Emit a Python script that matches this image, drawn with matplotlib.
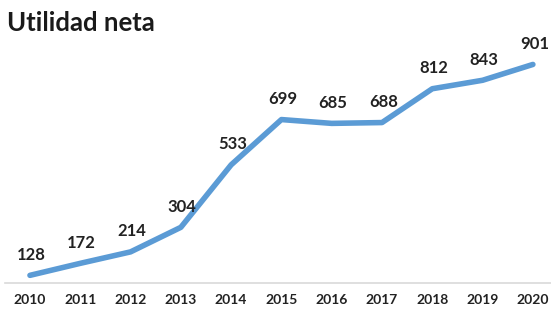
import matplotlib
matplotlib.use("Agg")
import matplotlib.pyplot as plt

years = ["2010", "2011", "2012", "2013", "2014", "2015", "2016", "2017", "2018", "2019", "2020"]
utilidad = [128, 172, 214, 304, 533, 699, 685, 688, 812, 843, 901]

plt.rcParams['font.family'] = ['Lato', 'DejaVu Sans']

fig = plt.figure(figsize=(5.51, 3.12), dpi=100)
ax = fig.add_axes([0.009, 0.093, 0.991, 0.787])

x = list(range(len(years)))
ax.plot(x, utilidad, color='#5B9BD5', linewidth=4, solid_capstyle='round', solid_joinstyle='round')

# etiquetas de datos encima de cada punto
for xi, v in zip(x, utilidad):
    ax.annotate(str(v), (xi, v), xytext=(1, 9), textcoords='offset points',
                ha='center', va='bottom', fontsize=12, fontweight='bold', color='#222222')

ax.set_xlim(-0.497, 10.36)
ax.set_ylim(100, 1000)
ax.set_xticks(x)
ax.set_xticklabels(years, fontsize=10, fontweight='bold', color='#222222')
ax.set_yticks([])
ax.tick_params(axis='x', length=0, pad=8)

for side in ['top', 'right', 'left']:
    ax.spines[side].set_visible(False)
ax.spines['bottom'].set_color('#D9D9D9')
ax.spines['bottom'].set_linewidth(1.2)

fig.text(0.013, 0.925, "Utilidad neta", fontsize=18.5, fontweight='bold', color='#1a1a1a', va='center', ha='left')

fig.savefig("out.png", dpi=100)
